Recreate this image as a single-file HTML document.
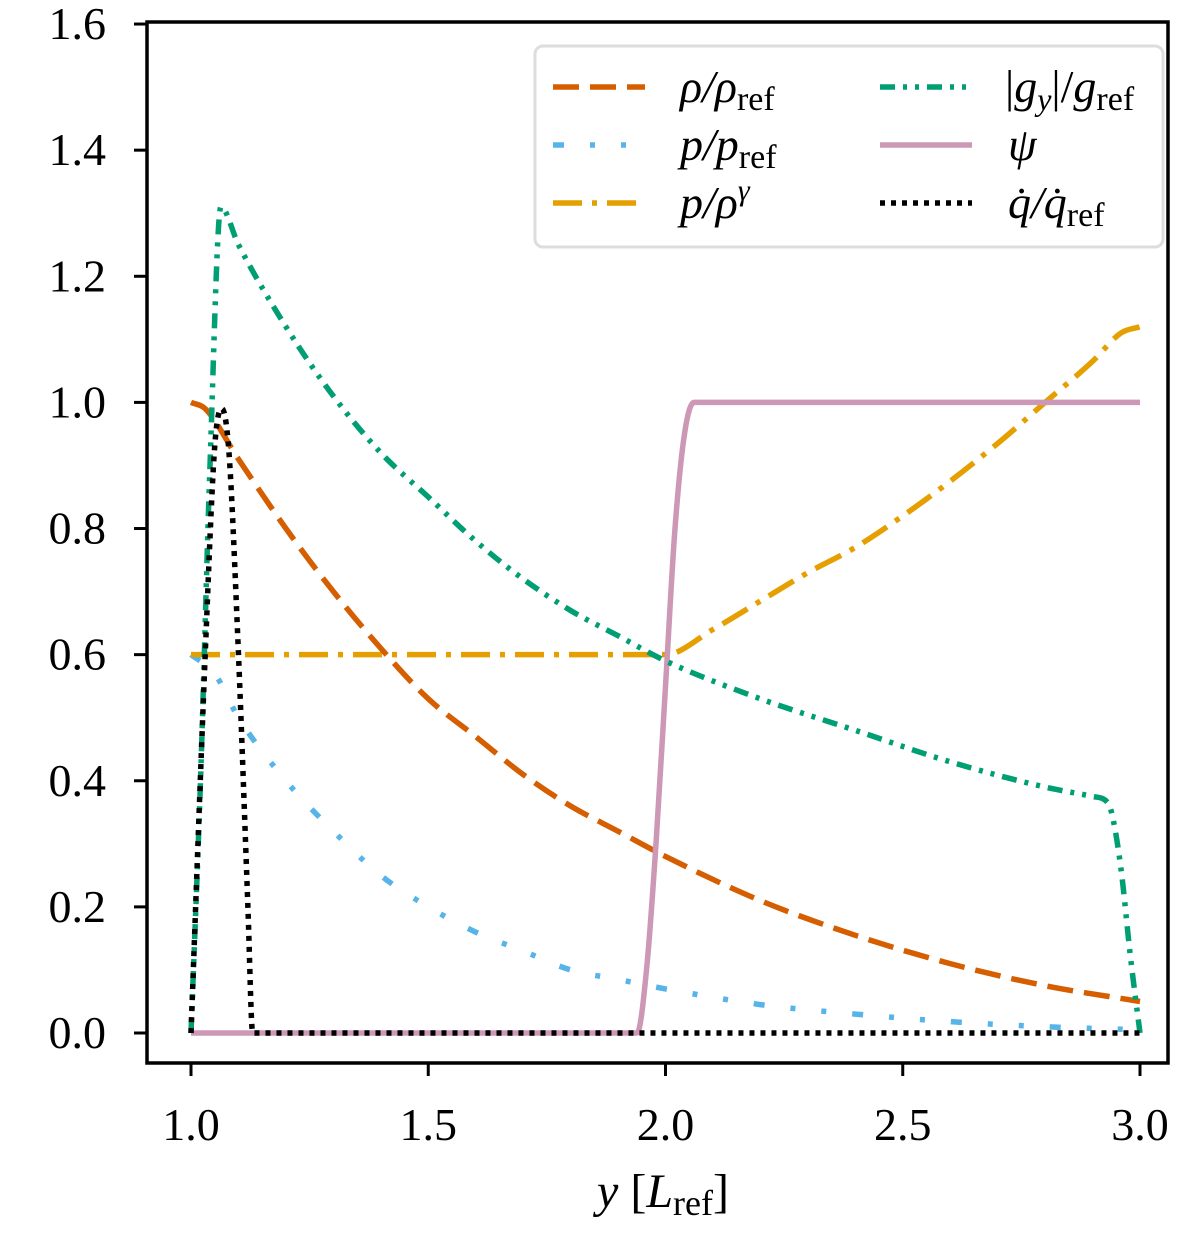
<!DOCTYPE html>
<html><head><meta charset="utf-8"><style>
body{margin:0;background:#fff}
svg text{font-family:"Liberation Serif",serif;fill:#000}
</style></head><body>
<svg width="1200" height="1234" viewBox="0 0 1200 1234" xmlns="http://www.w3.org/2000/svg">
<g id="plot"></g>
<rect x="147" y="22" width="1021" height="1041" fill="none" stroke="#000" stroke-width="3.5"/>
<g id="ticks"></g>
<text x="663" y="1207" font-size="48" text-anchor="middle"><tspan font-style="italic">y</tspan> [<tspan font-style="italic">L</tspan><tspan font-size="36" dy="8">ref</tspan><tspan dy="-8">]</tspan></text>
<g>
<rect x="535" y="46" width="628" height="201" rx="8" fill="#fff" stroke="#ddd" stroke-width="3"/>
<g id="legendlines"></g>
<g font-size="46" font-style="italic">
<text x="680" y="102">ρ/ρ<tspan font-style="normal" font-size="34" dy="8">ref</tspan></text>
<text x="680" y="160">p/p<tspan font-style="normal" font-size="34" dy="8">ref</tspan></text>
<text x="680" y="218">p/ρ<tspan font-size="30" dy="-18">γ</tspan></text>
<text x="1005" y="102"><tspan font-style="normal">|</tspan>g<tspan font-size="32" dy="8">y</tspan><tspan font-style="normal" dy="-8">|/</tspan>g<tspan font-style="normal" font-size="34" dy="8">ref</tspan></text>
<text x="1008" y="160">ψ</text>
<text x="1008" y="218">q̇/q̇<tspan font-style="normal" font-size="34" dy="8">ref</tspan></text>
</g></g>
</svg>
<script>
const xTicks=[1.0,1.5,2.0,2.5,3.0];
const yTicks=[0.0,0.2,0.4,0.6,0.8,1.0,1.2,1.4,1.6];
const rhoX=[1.0,1.03,1.1,1.2,1.3,1.4,1.5,1.6,1.7,1.8,1.9,2.0,2.2,2.4,2.6,2.8,3.0];
const rhoY=[1.0,0.99,0.91,0.8,0.7,0.61,0.53,0.47,0.41,0.36,0.32,0.28,0.21,0.155,0.11,0.075,0.05];
const pX=[1.0,1.05,1.1,1.2,1.3,1.4,1.5,1.6,1.7,1.8,1.9,2.0,2.2,2.4,2.6,2.8,3.0];
const pY=[0.6,0.57,0.5,0.4,0.32,0.25,0.2,0.16,0.13,0.1,0.085,0.07,0.045,0.03,0.018,0.01,0.005];
const sX=[1.0,2.0,2.1,2.2,2.3,2.4,2.5,2.6,2.7,2.8,2.9,2.96,3.0];
const sY=[0.6,0.6,0.64,0.685,0.73,0.77,0.82,0.875,0.935,1.0,1.065,1.11,1.12];
const gX=[1.0,1.02,1.04,1.063,1.1,1.2,1.3,1.4,1.5,1.6,1.7,1.8,1.9,2.0,2.2,2.4,2.6,2.8,2.9,2.93,2.94,2.96,2.98,3.0];
const gY=[0,0.4,0.9,1.31,1.25,1.12,1.01,0.92,0.85,0.78,0.72,0.67,0.63,0.59,0.53,0.48,0.43,0.39,0.375,0.367,0.35,0.26,0.12,0];
const psiX=[1.0,1.94,1.96,1.98,2.0,2.02,2.04,2.06,3.0];
const psiY=[0,0,0.1,0.3,0.55,0.8,0.95,1.0,1.0];
const qX=[1.0,1.03,1.05,1.065,1.08,1.1,1.12,1.13,3.0];
const qY=[0,0.6,0.93,0.99,0.92,0.6,0.2,0,0];
const X=v=>191+(v-1)*474.5, Y=v=>1033-v*630.6;
const NS='http://www.w3.org/2000/svg';
const plot=document.getElementById('plot'),ticks=document.getElementById('ticks'),leg=document.getElementById('legendlines');
function mk(t,a,p){const e=document.createElementNS(NS,t);for(const k in a)e.setAttribute(k,a[k]);p.appendChild(e);return e;}
function monoPath(xs,ys){
 const px=xs.map(X),py=ys.map(Y),n=px.length;
 const d=[],m=[];
 for(let i=0;i<n-1;i++)d.push((py[i+1]-py[i])/(px[i+1]-px[i]));
 for(let i=0;i<n;i++){
  if(i==0)m.push(d[0]);else if(i==n-1)m.push(d[n-2]);
  else m.push(d[i-1]*d[i]<=0?0:(d[i-1]+d[i])/2);
 }
 for(let i=0;i<n-1;i++){if(d[i]==0){m[i]=0;m[i+1]=0;continue;}
  const a=m[i]/d[i],b=m[i+1]/d[i],s=a*a+b*b;if(s>9){const t=3/Math.sqrt(s);m[i]=t*a*d[i];m[i+1]=t*b*d[i];}}
 let s='M'+px[0].toFixed(1)+' '+py[0].toFixed(1);
 for(let i=0;i<n-1;i++){const h=(px[i+1]-px[i])/3;
  s+=' C'+(px[i]+h).toFixed(1)+' '+(py[i]+m[i]*h).toFixed(1)+' '+(px[i+1]-h).toFixed(1)+' '+(py[i+1]-m[i+1]*h).toFixed(1)+' '+px[i+1].toFixed(1)+' '+py[i+1].toFixed(1);}
 return s;
}
const series=[
 [pX,pY,'#56b4e9','11 26 5 26 5 26','p'],
 [sX,sY,'#e69f00','29 10 5 10','entropy'],
 [rhoX,rhoY,'#d55e00','26 11','rho'],
 [psiX,psiY,'#cc98b5','','psi'],
 [gX,gY,'#009e73','15 8 4 8 4 8','g'],
 [qX,qY,'#000','5 6','qdot']];
series.forEach(s=>{
 const e=mk('path',{d:monoPath(s[0],s[1]),fill:'none',stroke:s[2],'stroke-width':5.5,'stroke-dasharray':s[3],'stroke-linejoin':'round'},plot);
 
 
});
const legPos={rho:[553,87],p:[553,145],entropy:[553,203],g:[880,87],psi:[880,145],qdot:[880,203]};
series.forEach(s=>{const p=legPos[s[4]];
 const e=mk('line',{x1:p[0],y1:p[1],x2:p[0]+92,y2:p[1],stroke:s[2],'stroke-width':5.5,'stroke-dasharray':s[3]},leg);
 
 
});
xTicks.forEach(v=>{
 mk('line',{x1:X(v),y1:1063,x2:X(v),y2:1076,stroke:'#000','stroke-width':3},ticks);
 const t=mk('text',{x:X(v),y:1140,'font-size':46,'text-anchor':'middle'},ticks);t.textContent=v.toFixed(1);
 
 
});
yTicks.forEach(v=>{
 mk('line',{x1:134,y1:Y(v),x2:147,y2:Y(v),stroke:'#000','stroke-width':3},ticks);
 const t=mk('text',{x:106,y:Y(v)+15,'font-size':46,'text-anchor':'end'},ticks);t.textContent=v.toFixed(1);
 
 
});
</script>
</body></html>
